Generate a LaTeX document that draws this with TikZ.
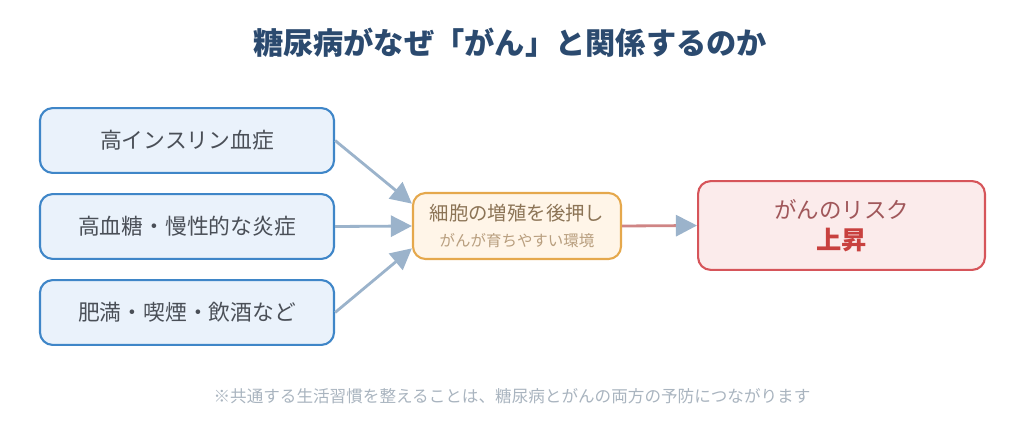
\documentclass[tikz,border=0pt]{standalone}
\usepackage{fontspec}
\usepackage{xcolor}
\usetikzlibrary{arrows.meta, positioning}
\setmainfont{Noto Sans CJK JP}
\newfontfamily\jpfont{Noto Sans CJK JP}

\definecolor{titlenavy}{HTML}{2B4A6F}
\definecolor{causeline}{HTML}{3F86C8}
\definecolor{causefill}{HTML}{EAF2FB}
\definecolor{causetext}{HTML}{4A4F57}
\definecolor{midline}{HTML}{E5A84C}
\definecolor{midfill}{HTML}{FFF5E8}
\definecolor{midtext}{HTML}{8C7456}
\definecolor{midsub}{HTML}{B89E7E}
\definecolor{riskline}{HTML}{D6555A}
\definecolor{riskfill}{HTML}{FBEBEB}
\definecolor{risktext}{HTML}{A0575A}
\definecolor{riskbold}{HTML}{C8413F}
\definecolor{flowgray}{HTML}{9BB3CB}
\definecolor{flowred}{HTML}{CF8585}
\definecolor{notegray}{HTML}{A9B4BF}

\tikzset{
  causebox/.style={rectangle, rounded corners=9pt, draw=causeline, fill=causefill,
    line width=1.5pt, minimum width=7.35cm, minimum height=1.62cm,
    text=causetext, font=\jpfont\fontsize{15.5}{18}\selectfont},
  midbox/.style={rectangle, rounded corners=9pt, draw=midline, fill=midfill,
    line width=1.5pt, minimum width=5.2cm, minimum height=1.65cm, align=center},
  riskbox/.style={rectangle, rounded corners=9pt, draw=riskline, fill=riskfill,
    line width=1.5pt, minimum width=7.17cm, minimum height=2.22cm, align=center},
  flow/.style={draw=flowgray, line width=2pt, -{Triangle[length=15pt, width=15pt]}},
}

\begin{document}
\begin{tikzpicture}[x=0.025cm, y=-0.025cm]
        \useasboundingbox (0, 0) rectangle (1024, 433);

        \node[font=\jpfont\bfseries\fontsize{21.5}{24}\selectfont, text=titlenavy] (title) at (510, 43) {糖尿病がなぜ「がん」と関係するのか};

        \node[causebox] (insulin) at (187, 140.5) {高インスリン血症};
        \node[causebox] (glucose) at (187, 226.5) {高血糖・慢性的な炎症};
        \node[causebox] (habits) at (187, 312.5) {肥満・喫煙・飲酒など};

        \node[midbox] (growth) at (517, 226) {{\color{midtext}\fontsize{13.8}{16}\selectfont 細胞の増殖を後押し}\\[7pt]{\color{midsub}\fontsize{11}{13}\selectfont がんが育ちやすい環境}};

        \node[riskbox] (risk) at (841.5, 225.5) {{\color{risktext}\fontsize{16}{19}\selectfont がんのリスク}\\[5pt]{\color{riskbold}\bfseries\fontsize{18}{21}\selectfont 上昇}};

        \node[font=\jpfont\fontsize{11.8}{14}\selectfont, text=notegray] (note) at (512, 396) {※共通する生活習慣を整えることは、糖尿病とがんの両方の予防につながります};

        \draw[flow] (insulin.east) to (growth.168);
        \draw[flow] (glucose.east) to (growth.west);
        \draw[flow] (habits.east) to (growth.192);
        \draw[draw=flowred, line width=2pt, -{Triangle[length=15pt, width=15pt, color=flowgray]}] (growth.east) to (risk.west);
    \end{tikzpicture}
\end{document}
